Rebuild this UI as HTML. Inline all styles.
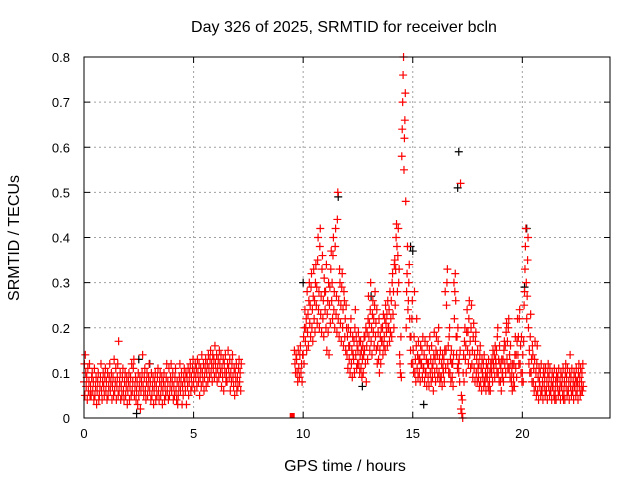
<!DOCTYPE html>
<html><head><meta charset="utf-8"><style>
body{margin:0;background:#fff}
svg{display:block;font-family:"Liberation Sans",Arial,sans-serif}
</style></head><body>
<svg id="chart" width="640" height="480" xmlns="http://www.w3.org/2000/svg">
<rect width="640" height="480" fill="#fff"/>
<text x="344" y="32" font-size="16" text-anchor="middle">Day 326 of 2025, SRMTID for receiver bcln</text>
<text x="345" y="471" font-size="16" text-anchor="middle">GPS time / hours</text>
<text x="0" y="0" font-size="16" text-anchor="middle" transform="translate(19,238) rotate(-90)">SRMTID / TECUs</text>
<g id="grid"></g>
<g id="ticks"></g>
<g id="black"></g>
<g id="red"></g>
<rect x="84" y="57" width="526" height="361" fill="none" stroke="#000" stroke-width="1"/>
</svg>
<script>
const xTicks=[0,5,10,15,20];
const yTicks=[0,0.1,0.2,0.3,0.4,0.5,0.6,0.7,0.8];
const yTickLabels=["0","0.1","0.2","0.3","0.4","0.5","0.6","0.7","0.8"];
const seg1Start=0.0;
const seg1Vals=["8 12 5 14 10","7 9 4 11","6 8 12 5","7 5 9 10","6 8 4 11","5 7 9 3","6 8 10 4","5 7 9 12","6 4 8 10","7 5 9 11","6 8 4 10","5 7 9 12","6 8 10 4","7 9 5 13","6 8 11 4","7 9 12 5 17","6 8 10 4","7 5 9 11","6 4 8 10","5 7 9 3","6 8 10 4","7 9 5 12","6 8 11 13","5 7 9 4","6 8 3 10","5 7 9 2","6 8 10 14","7 5 9 11","6 4 8 10","5 7 9 12","6 8 4 10","5 7 9 3","6 8 10 4","7 5 9 11","6 4 8 10","5 7 9 3","6 8 10 4","7 5 9 12","6 8 4 11","5 7 9 12","6 8 10 4","7 5 9 11","6 4 8 3","5 7 9 12","6 8 10 3","7 5 9 11","8 6 10 3","9 7 11 5","8 10 12 6","9 7 11 13","8 10 6 12","9 11 7 13","10 8 12 5","9 11 7 14","10 8 12 6","9 11 13 7","10 12 8 14","11 9 13 15","10 12 8 14","11 13 9 16","12 10 14 8","11 13 9 15","12 10 14 7","11 9 13 6","12 10 14 8","10 8 12 15","11 9 13 6","10 8 12 14","9 7 11 5","10 8 12 6","9 7 11 13","8 10 6 12"];
const seg2Start=9.6;
const seg2Vals=["15 12 10 14","13 10 8 15","11 9 14 16","10 12 8 14","14 18 12 20 24","17 20 22 15 28","19 23 16 26 30","21 25 18 29 32","20 24 17 27 33","22 26 19 30 34","25 29 21 35 40","24 28 20 38 42","23 27 19 33 36","22 26 18 31 28","24 28 20 34 15","23 26 19 30 14","25 29 21 33 37","26 30 22 36 40","24 28 20 38 42","23 27 19 44 50","22 26 18 33 30","21 25 17 29 32","20 24 16 28 26","18 22 15 25 20","14 18 11 20 16","13 16 10 19 22","12 15 9 18 14","13 17 10 20 24","14 18 11 16 12","15 19 12 17 10","14 17 11 15 9","13 16 10 14 18","15 18 12 20 8","16 19 13 22 27","18 21 15 24 30","17 20 14 23 26","19 22 16 25 28","18 21 15 24 12","16 19 13 22 10","15 18 12 20 17","17 20 14 23 16","18 22 15 25 21","19 23 16 26 20","20 24 17 28 19","22 26 18 30 32","23 28 20 34 35","25 33 40 43 38","28 36 42 30 33","14 12 10 18 9","58 64 70 76 80","55 62 66 72 48","20 28 32 38 24","26 30 34 22 18","15 18 12 22 26","12 15 10 18 28","10 13 8 16 22","11 14 9 17 13","10 13 8 16 12","12 15 9 18 11","11 14 8 17 10","10 13 7 16 12","9 12 7 15 18","10 13 8 16 11","9 12 6 14 19","10 13 8 15 18","11 14 9 17 20","10 13 8 15 9","9 12 7 14 11","10 13 8 15 28","11 15 25 30 33","12 16 10 18 20","10 13 8 15 12","9 12 7 14 30","22 28 32 26 18","14 18 11 20 12","10 13 8 15 52","2 5 1 4 0","10 14 8 17 20","13 16 10 19 24","15 19 12 22 26","14 17 11 20 25","12 15 9 18 21","11 14 8 17 19","10 13 8 15 11","9 12 7 14 16","8 11 6 13 10","9 12 7 14 8","8 10 6 12 9","9 11 7 13 6","8 10 6 12 11","10 13 8 15 12","11 14 9 16 13","12 15 10 18 20","10 13 8 16 12","8 11 6 13 9","10 13 8 15 17","12 16 10 19 21","13 17 11 20 22","11 14 9 16 12","8 10 6 12 7","9 12 7 14 18","11 14 9 17 22","14 18 12 22 24","12 16 10 18 8","10 14 8 17 25","28 33 38 42 30","22 27 35 40 20","12 15 10 18 23","10 13 8 16 14","8 11 6 13 17","7 10 5 12 16","6 9 4 11 8","7 10 5 12 6","6 8 4 10 11","7 9 5 11 6","6 8 4 10 12","7 9 5 11 6","6 8 4 10 7","7 9 5 11 4","6 8 4 10 9","7 9 5 11 6","6 8 4 10 7","7 9 5 11 4","6 8 4 10 12","7 9 5 11 6","6 8 4 10 14","7 9 5 11 6","6 8 4 10 7","7 9 5 11 8","6 8 4 10 12","7 9 5 11 6","8 10 6 12 7"];
const blackTimes=[2.4,11.6,17.1,17.05,20.2,15.0,13.1,15.5,10.0,3.0,20.1,2.5,14.9,12.7];
const blackVals=[0.01,0.49,0.59,0.51,0.42,0.37,0.27,0.03,0.30,0.12,0.29,0.13,0.38,0.07];
const outlierTimes=[9.5];
const outlierVals=[0];
const stepH=0.1;

const X0=84,X1=610,Y0=418,Y1=57;
const xs=t=>X0+(t/24)*(X1-X0);
const ys=v=>Y0-(v/0.8)*(Y0-Y1);
const NS="http://www.w3.org/2000/svg";
function mk(tag,attrs,parent){const e=document.createElementNS(NS,tag);for(const k in attrs)e.setAttribute(k,attrs[k]);parent.appendChild(e);return e;}
const grid=document.getElementById('grid'),ticks=document.getElementById('ticks');
xTicks.forEach(t=>{const x=xs(t);
 if(t>0){const g=mk('line',{x1:x,y1:Y0,x2:x,y2:Y1,stroke:'#a0a0a0','stroke-dasharray':'2,3'},grid);}
 const a=mk('line',{x1:x,y1:Y0,x2:x,y2:Y0-6,stroke:'#000'},ticks);
 const b=mk('line',{x1:x,y1:Y1,x2:x,y2:Y1+6,stroke:'#000'},ticks);
 const l=mk('text',{x:x,y:Y0+20,'font-size':13,'text-anchor':'middle'},ticks);l.textContent=String(t);});
yTicks.forEach((v,i)=>{const y=ys(v);
 if(v>0&&v<0.8){const g=mk('line',{x1:X0,y1:y,x2:X1,y2:y,stroke:'#a0a0a0','stroke-dasharray':'2,3'},grid);}
 const a=mk('line',{x1:X0,y1:y,x2:X0+6,y2:y,stroke:'#000'},ticks);
 const b=mk('line',{x1:X1,y1:y,x2:X1-6,y2:y,stroke:'#000'},ticks);
 const l=mk('text',{x:X0-14,y:y+5,'font-size':13,'text-anchor':'end'},ticks);l.textContent=yTickLabels[i];});
function plus(t,v,color,parent,name){const x=xs(t),y=ys(v);
 const p=mk('path',{d:`M${x-4},${y}H${x+4}M${x},${y-4}V${y+4}`,stroke:color,'stroke-width':1.2,fill:'none'},parent);
 
 }
const black=document.getElementById('black'),red=document.getElementById('red');
blackTimes.forEach((t,i)=>plus(t,blackVals[i],'#000',black,'black-point'));
function drawSeg(start,vals){vals.forEach((s,k)=>{const arr=s.split(' ').map(Number);
 arr.forEach((h,j)=>plus(start+k*stepH+j*stepH/arr.length,h/100,'#f00',red,'red-point'));});}
drawSeg(seg1Start,seg1Vals);
drawSeg(seg2Start,seg2Vals);
outlierTimes.forEach((t,i)=>{const r=mk('rect',{x:xs(t)-2.5,y:ys(outlierVals[i])-5,width:5,height:5,fill:'#f00'},red);
 
 });
</script>
</body></html>
